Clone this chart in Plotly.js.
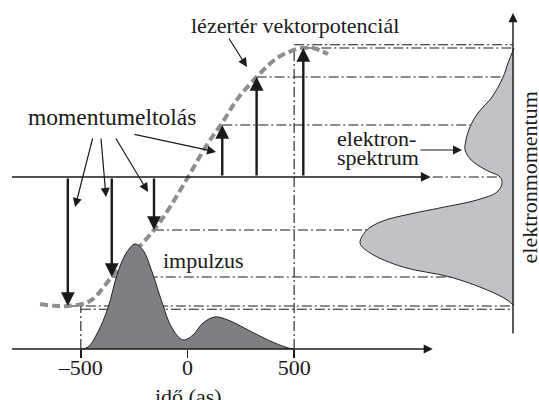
<!DOCTYPE html>
<html><head><meta charset="utf-8">
<script src="https://cdn.plot.ly/plotly-3.0.1.min.js"></script>
<style>html,body{margin:0;padding:0;background:#fff}#chart{width:539px;height:400px}</style>
</head><body><div id="chart"></div>
<script>
// ---- data ----
const tickValues = [-500, 0, 500];
const tickLabels = ['–500', '0', '500'];

// laser vector potential (time in as, momentum in arbitrary units)
const potentialTime     = [-691, -630, -561, -457, -355, -270, -157, -82, 0, 91, 163, 232, 324, 420, 513, 543, 588, 659];
const potentialMomentum = [-0.985, -0.998, -1.0, -0.961, -0.775, -0.62, -0.411, -0.233, -0.008, 0.25, 0.42, 0.60, 0.775, 0.922, 0.992, 1.0, 1.0, 0.953];

// attosecond pulse intensity
const pulseTime      = [-500, -466, -420, -373, -326, -284, -246, -209, -166, -120, -73, -21, 26, 73, 129, 190, 284, 377, 471, 500];
const pulseIntensity = [0, 0.019, 0.162, 0.39, 0.733, 0.924, 1.0, 0.943, 0.733, 0.448, 0.2, 0.086, 0.133, 0.248, 0.305, 0.276, 0.181, 0.086, 0.01, 0];

// momentum shifts (release time, final momentum)
const shiftTime     = [-561, -355, -157, 163, 324, 543];
const shiftMomentum = [-1.0, -0.775, -0.411, 0.403, 0.775, 1.0];

// electron spectrum
const spectrumMomentum  = [1.0, 0.884, 0.775, 0.62, 0.496, 0.388, 0.287, 0.209, 0.132, 0.054, 0, -0.047, -0.116, -0.178, -0.24, -0.287, -0.341, -0.411, -0.512, -0.589, -0.698, -0.775, -0.876, -0.953, -1.0];
const spectrumIntensity = [0, 0.039, 0.071, 0.143, 0.234, 0.286, 0.312, 0.318, 0.279, 0.182, 0.091, 0.078, 0.11, 0.24, 0.481, 0.675, 0.851, 0.955, 1.0, 0.935, 0.721, 0.416, 0.175, 0.045, 0];

// ---- layout constants ----
const momentumAxisTime = 1526;   // time coordinate where the momentum axis stands
const timeAxisLevel = -1.333;    // momentum coordinate of the time axis
const FONT = '"Liberation Serif", serif';
const INK = '#1a1a1a';
const GUIDE = {color: INK, width: 1.1, dash: '10px,3px,2px,3px'};

const traces = [];
function guide(x, y) {
  traces.push({x: x, y: y, mode: 'lines', line: GUIDE, hoverinfo: 'skip', showlegend: false});
}
shiftTime.forEach((t, i) => guide([t, momentumAxisTime], [shiftMomentum[i], shiftMomentum[i]]));
guide([500, momentumAxisTime], [1.025, 1.025]);
guide([-500, momentumAxisTime], [-1.025, -1.025]);
guide([1150, momentumAxisTime], [0, 0]);
guide([-500, -500], [timeAxisLevel, -1.0]);
guide([500, 500], [timeAxisLevel, 1.0]);

traces.push({
  x: pulseTime, y: pulseIntensity, xaxis: 'x', yaxis: 'y2', mode: 'lines',
  line: {color: '#222', width: 1, shape: 'spline', smoothing: 1},
  fill: 'tozeroy', fillcolor: '#7e7f83', hoverinfo: 'skip', showlegend: false
});
traces.push({
  x: spectrumIntensity, y: spectrumMomentum, xaxis: 'x2', yaxis: 'y', mode: 'lines',
  line: {color: '#222', width: 1, shape: 'spline', smoothing: 1},
  fill: 'tozerox', fillcolor: '#c1c2c5', hoverinfo: 'skip', showlegend: false
});
traces.push({
  x: potentialTime, y: potentialMomentum, mode: 'lines',
  line: {color: '#8e8e8e', width: 4, dash: '8px,4px', shape: 'spline', smoothing: 1},
  hoverinfo: 'skip', showlegend: false
});

const ann = [];
function arrow(x, y, ax, ay, w, size, yref) {
  ann.push({x: x, y: y, ax: ax, ay: ay, xref: 'x', yref: yref || 'y', axref: 'x', ayref: yref || 'y',
    text: '', showarrow: true, arrowhead: 2, arrowsize: size, arrowwidth: w, arrowcolor: INK,
    standoff: 0, startstandoff: 0});
}
function label(text, x, y, opts, size) {
  ann.push(Object.assign({x: x, y: y, xref: 'x', yref: 'y', text: text, showarrow: false,
    font: {family: FONT, size: size || 22, color: INK}, xanchor: 'center', yanchor: 'middle'}, opts || {}));
}
// axes
arrow(1150, 0, -830, 0, 1.4, 1.3, 'y2');
arrow(1140, 0, -830, 0, 1.5, 1.3);
arrow(momentumAxisTime, 1.271, momentumAxisTime, -1.225, 1.4, 1.3);
// momentum shift arrows
shiftTime.forEach((t, i) => arrow(t, shiftMomentum[i], t, 0, 2.4, 1.15));
// pointer arrows
arrow(279, 0.853, 190, 1.085, 1.2, 1.5);
arrow(134, 0.194, -256, 0.333, 1.2, 1.5);
arrow(-527, -0.233, -443, 0.31, 1.2, 1.5);
arrow(-382, -0.155, -406, 0.31, 1.2, 1.5);
arrow(-185, -0.116, -340, 0.31, 1.2, 1.5);
arrow(1287, 0.209, 1085, 0.209, 1.2, 1.5);
// labels
label('lézertér vektorpotenciál', 504, 1.174);
label('momentumeltolás', -356, 0.468, null, 23.5);
label('elektron-', 888, 0.298);
label('spektrum', 893, 0.150);
label('impulzus', 77, -0.651);
label('elektronmomentum', 1608, 0, {textangle: -90});
label('idő (as)', 5, 0.0085, {yref: 'paper'});

const layout = {
  width: 539, height: 400,
  margin: {l: 0, r: 0, t: 0, b: 0, pad: 0},
  paper_bgcolor: '#fff', plot_bgcolor: '#fff',
  font: {family: FONT, color: INK},
  showlegend: false,
  xaxis: {range: [-879, 1648], anchor: 'free', position: 1 - 349 / 400,
    showgrid: false, zeroline: false, showline: false,
    ticks: 'outside', ticklen: 8, tickwidth: 1.4, tickcolor: INK,
    tickvals: tickValues, ticktext: tickLabels, ticklabelstandoff: -9,
    tickfont: {family: FONT, size: 22, color: INK}, automargin: false},
  yaxis: {range: [-1.729, 1.372], visible: false, fixedrange: true},
  yaxis2: {range: [-0.486, 3.324], overlaying: 'y', visible: false},
  xaxis2: {range: [3.338, -0.162], overlaying: 'x', visible: false},
  annotations: ann
};
Plotly.newPlot('chart', traces, layout, {displayModeBar: false, staticPlot: true});
</script></body></html>
